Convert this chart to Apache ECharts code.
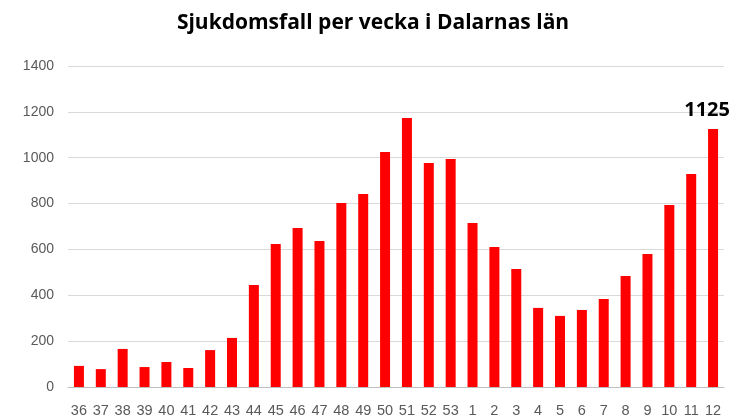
<!DOCTYPE html>
<html><head><meta charset="utf-8">
<script src="https://cdn.jsdelivr.net/npm/echarts@6/dist/echarts.min.js"></script>
<style>html,body{margin:0;padding:0;background:#fff}#c{width:746px;height:419px}</style>
</head><body><div id="c"></div>
<script>
var weeks = ['36','37','38','39','40','41','42','43','44','45','46','47','48','49','50','51','52','53','1','2','3','4','5','6','7','8','9','10','11','12'];
var cases = [92,78,166,87,109,83,161,214,445,624,693,637,802,842,1025,1173,977,994,715,611,515,345,310,336,384,484,580,794,929,1125];
var yTicks = [0,200,400,600,800,1000,1200,1400];
var chart = echarts.init(document.getElementById('c'));
chart.setOption({
  animation:false,
  title:{text:'Sjukdomsfall per vecka i Dalarnas län',left:'center',top:8,
    textStyle:{fontFamily:'Open Sans',fontWeight:'bold',fontSize:21,color:'#000'}},
  grid:{left:68,right:22,top:66,bottom:32},
  xAxis:{type:'category',data:weeks,axisTick:{show:false},
    axisLine:{lineStyle:{color:'#bfbfbf'}},
    axisLabel:{color:'#595959',fontSize:14.5,interval:0,margin:16,fontFamily:'Liberation Sans'}},
  yAxis:{type:'value',min:0,max:1400,interval:200,
    axisLabel:{color:'#595959',fontSize:14,margin:14,fontFamily:'Liberation Sans',formatter:function(v){return String(v);}},
    splitLine:{lineStyle:{color:'#d9d9d9'}}},
  series:[{type:'bar',data:cases.map(function(v,i){
      return i===cases.length-1?{value:v,label:{show:true,position:'top',offset:[-6,-4],fontSize:20,fontWeight:'bold',color:'#000',fontFamily:'Open Sans'}}:v;}),
    barWidth:10,itemStyle:{color:'#ff0000'}}]
});
</script></body></html>
